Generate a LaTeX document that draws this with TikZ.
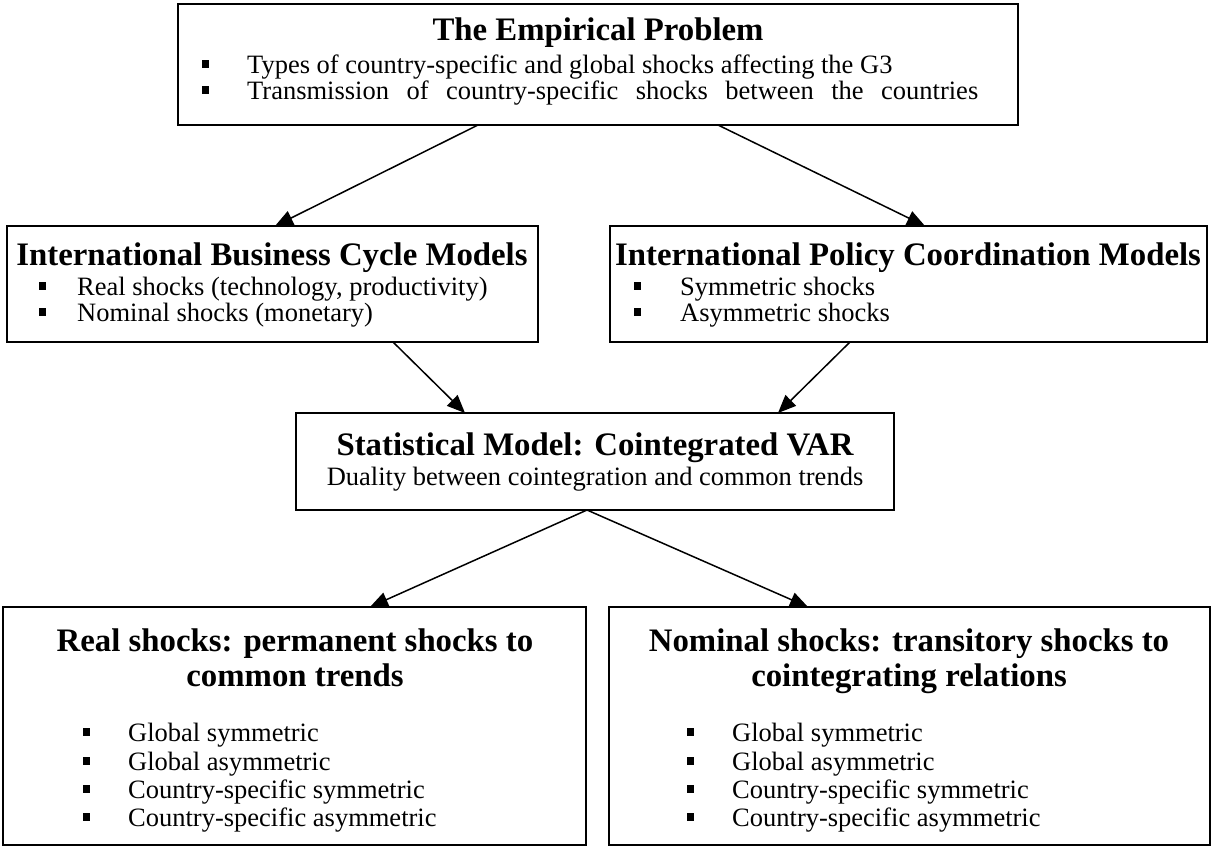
\documentclass[tikz,border=0pt]{standalone}
\usepackage{fontspec}
\setmainfont{Liberation Serif}
\usetikzlibrary{arrows.meta}
\newcommand{\bitem}[5]{%
  \node[bul] (#1b) at (#2,#4-9) {};
  \node[txt] (#1) at (#3,#4) {#5};}
\begin{document}
\begin{tikzpicture}[x=1pt,y=-1pt,
  box/.style={draw, line width=1.7pt, anchor=north west, inner sep=0pt, outer sep=0pt},
  ttl/.style={font=\fontsize{32.8}{37}\selectfont\bfseries, anchor=base, inner sep=0pt},
  txt/.style={font=\fontsize{26.5}{31}\selectfont, anchor=base west, inner sep=0pt},
  sub/.style={font=\fontsize{26.5}{31}\selectfont, anchor=base, inner sep=0pt},
  bul/.style={fill, minimum width=7pt, minimum height=8pt, inner sep=0pt},
  arr/.style={-{Triangle[length=18pt,width=15pt]}, line width=1.5pt}]
\useasboundingbox (0,0) rectangle (1215,846);
% boxes
\node[box, minimum width=840pt, minimum height=121pt] (top) at (178,4) {};
\node[box, minimum width=531pt, minimum height=116pt] (ibc) at (7,226) {};
\node[box, minimum width=597pt, minimum height=116pt] (ipc) at (610,226) {};
\node[box, minimum width=598pt, minimum height=97pt] (svar) at (296,413) {};
\node[box, minimum width=583pt, minimum height=238pt] (real) at (3,607) {};
\node[box, minimum width=601pt, minimum height=238pt] (nom) at (609,607) {};
% top box text
\node[ttl] (toptitle) at (598,40) {The Empirical Problem};
\bitem{t1}{205}{247}{73}{Types of country-specific and global shocks affecting the G3}
\bitem{t2}{205}{247}{99}{\spaceskip=17.5pt Transmission of country-specific shocks between the countries}
% left middle
\node[ttl] (ibctitle) at (272,265) {International Business Cycle Models};
\bitem{l1}{42}{77}{295}{Real shocks (technology, productivity)}
\bitem{l2}{42}{77}{321}{Nominal shocks (monetary)}
% right middle
\node[ttl] (ipctitle) at (908,265) {International Policy Coordination Models};
\bitem{r1}{637}{680}{295}{Symmetric shocks}
\bitem{r2}{637}{680}{321}{Asymmetric shocks}
% center
\node[ttl] (svartitle) at (595,455) {Statistical Model: Cointegrated VAR};
\node[sub] (svarsub) at (595,485) {Duality between cointegration and common trends};
% bottom left
\node[ttl] (realt1) at (295,651) {Real shocks: permanent shocks to};
\node[ttl] (realt2) at (295,686) {common trends};
\bitem{bl1}{86}{128}{741}{Global symmetric}
\bitem{bl2}{86}{128}{770}{Global asymmetric}
\bitem{bl3}{86}{128}{798}{Country-specific symmetric}
\bitem{bl4}{86}{128}{826}{Country-specific asymmetric}
% bottom right
\node[ttl] (nomt1) at (909,651) {Nominal shocks: transitory shocks to};
\node[ttl] (nomt2) at (909,686) {cointegrating relations};
\bitem{br1}{690}{732}{741}{Global symmetric}
\bitem{br2}{690}{732}{770}{Global asymmetric}
\bitem{br3}{690}{732}{798}{Country-specific symmetric}
\bitem{br4}{690}{732}{826}{Country-specific asymmetric}
% arrows
\draw[arr] ([xshift=300pt]top.south west) -- ([xshift=268pt]ibc.north west);
\draw[arr] ([xshift=540pt]top.south west) -- ([xshift=315pt]ipc.north west);
\draw[arr] ([xshift=386pt]ibc.south west) -- ([xshift=169pt]svar.north west);
\draw[arr] ([xshift=240pt]ipc.south west) -- ([xshift=482pt]svar.north west);
\draw[arr] ([xshift=291pt]svar.south west) -- ([xshift=367pt]real.north west);
\draw[arr] ([xshift=291pt]svar.south west) -- ([xshift=199pt]nom.north west);
\end{tikzpicture}
\end{document}
